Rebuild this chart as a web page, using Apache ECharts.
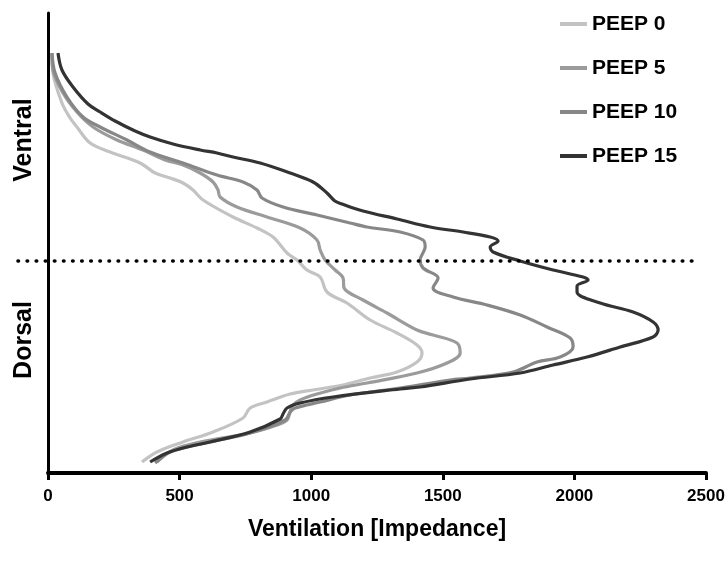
<!DOCTYPE html>
<html>
<head>
<meta charset="utf-8">
<script src="https://cdn.jsdelivr.net/npm/echarts@6/dist/echarts.min.js"></script>
<style>html,body{margin:0;padding:0;background:#fff}#c{width:728px;height:568px}</style>
</head>
<body>
<div id="c"></div>
<script>
// Position is depth from the top of the axis (ventral = small, dorsal = large)
const seriesNames = ['PEEP 0', 'PEEP 5', 'PEEP 10', 'PEEP 15'];
const xTicks = [0, 500, 1000, 1500, 2000, 2500];

const peep0X = [15,19,53,84,110,160,236,350,407,464,513,551,589,703,794,855,908,946,984,1034,1060,1136,1224,1326,1402,1421,1402,1326,1224,1121,1007,920,832,768,741,627,513,414,357];
const peep0Pos = [40,60,90,105,114,130,139,150,160,165,170,177,187,204,215,224,240,247,257,264,279,290,307,320,332,340,349,359,365,372,377,381,389,395,405,419,429,439,449];

const peep5X = [15,19,57,110,171,262,361,445,513,578,627,646,654,718,832,958,1022,1034,1053,1091,1121,1125,1197,1288,1402,1463,1554,1566,1516,1402,1212,1110,1022,958,927,920,908,870,768,578,475,414];
const peep5Pos = [40,57,80,99,114,127,137,147,152,160,169,177,184,194,204,215,227,237,247,257,265,275,287,300,317,322,330,340,350,360,370,375,381,387,393,399,407,412,420,429,437,449];

const peep10X = [15,27,72,133,198,300,388,513,642,741,794,813,893,1022,1148,1212,1338,1425,1433,1414,1425,1482,1463,1539,1668,1794,1896,1984,1995,1946,1858,1767,1604,1528,1338,1148,1034,939,920,901,768,597,464,407];
const peep10Pos = [40,60,84,104,114,127,139,150,162,169,177,185,194,202,210,214,219,227,234,247,255,265,275,284,292,302,314,325,334,344,349,359,365,367,375,382,389,395,399,407,420,430,439,450];

const peep15X = [38,53,95,152,198,255,331,388,475,578,642,703,806,920,1007,1060,1090,1117,1197,1326,1452,1577,1680,1710,1680,1691,1794,1919,2033,2052,2010,2010,2098,2223,2299,2318,2299,2174,2048,1919,1794,1604,1414,1338,1083,958,908,893,882,768,616,528,452,388];
const peep15Pos = [40,57,74,91,99,108,118,124,131,137,140,144,150,160,169,180,188,191,198,206,214,219,224,228,234,239,248,257,264,267,273,279,290,299,309,317,324,334,344,352,360,366,374,376,384,390,395,401,406,419,429,434,440,449];

const dividerPos = 248;
const dividerX = [-114, 2478];
const regionLabels = ['Ventral', 'Dorsal'];

const colors = ['#c3c3c3', '#9b9b9b', '#878787', '#333333'];
const xs = [peep0X, peep5X, peep10X, peep15X];
const ps = [peep0Pos, peep5Pos, peep10Pos, peep15Pos];

const FONT = '"Liberation Sans", Arial, sans-serif';

const chart = echarts.init(document.getElementById('c'), null, {renderer: 'canvas'});

const series = seriesNames.map((n, i) => ({
  name: n,
  type: 'line',
  symbol: 'none',
  showSymbol: false,
  smooth: 0.35,
  data: xs[i].map((v, k) => [v, ps[i][k]]),
  lineStyle: {color: colors[i], width: 3.2},
  itemStyle: {color: colors[i]},
  z: 3 + i
}));

chart.setOption({
  animation: false,
  backgroundColor: '#fff',
  grid: {left: 48, right: 22, top: 13, bottom: 95},
  legend: {
    data: seriesNames.map(n => ({name: n, icon: 'rect'})),
    orient: 'vertical',
    left: 560,
    top: 12,
    padding: 0,
    itemWidth: 27,
    itemHeight: 4,
    itemGap: 20,
    textStyle: {fontFamily: FONT, fontWeight: 'bold', fontSize: 21, color: '#000', lineHeight: 24}
  },
  xAxis: {
    type: 'value',
    position: 'bottom',
    min: 0, max: 2500, interval: 500,
    name: 'Ventilation [Impedance]',
    nameLocation: 'middle',
    nameGap: 45,
    nameTextStyle: {fontFamily: FONT, fontWeight: 'bold', fontSize: 23, color: '#000'},
    axisLine: {onZero: false, lineStyle: {color: '#000', width: 4, cap: 'round'}},
    axisTick: {show: true, length: 7, lineStyle: {color: '#000', width: 3}},
    axisLabel: {margin: 15, fontFamily: FONT, fontWeight: 'bold', fontSize: 17, color: '#000',
      formatter: v => xTicks.indexOf(v) >= 0 ? String(v) : ''},
    splitLine: {show: false}
  },
  yAxis: {
    type: 'value',
    min: 0, max: 460, inverse: true,
    axisLine: {show: true, onZero: false, lineStyle: {color: '#000', width: 3}},
    axisTick: {show: false},
    axisLabel: {show: false},
    splitLine: {show: false}
  },
  series: series
});

// Dotted ventral/dorsal divider, placed through the chart's own scales
const p0 = chart.convertToPixel({xAxisIndex: 0, yAxisIndex: 0}, [dividerX[0], dividerPos]);
const p1 = chart.convertToPixel({xAxisIndex: 0, yAxisIndex: 0}, [dividerX[1], dividerPos]);
const mid1 = chart.convertToPixel({xAxisIndex: 0, yAxisIndex: 0}, [0, 127]);
const mid2 = chart.convertToPixel({xAxisIndex: 0, yAxisIndex: 0}, [0, 327]);

chart.setOption({
  graphic: [
    {type: 'line', z: 100, silent: true,
     shape: {x1: p0[0], y1: p0[1], x2: p1[0], y2: p1[1]},
     style: {stroke: '#000', lineWidth: 3.6, lineDash: [0.5, 8.6], lineCap: 'round'}},
    {type: 'text', x: 24, y: mid1[1], rotation: Math.PI / 2,
     style: {text: regionLabels[0], fontFamily: FONT, fontWeight: 'bold', fontSize: 25, fill: '#000', align: 'center', verticalAlign: 'middle'}},
    {type: 'text', x: 24, y: mid2[1], rotation: Math.PI / 2,
     style: {text: regionLabels[1], fontFamily: FONT, fontWeight: 'bold', fontSize: 25, fill: '#000', align: 'center', verticalAlign: 'middle'}}
  ]
});
</script>
</body>
</html>
